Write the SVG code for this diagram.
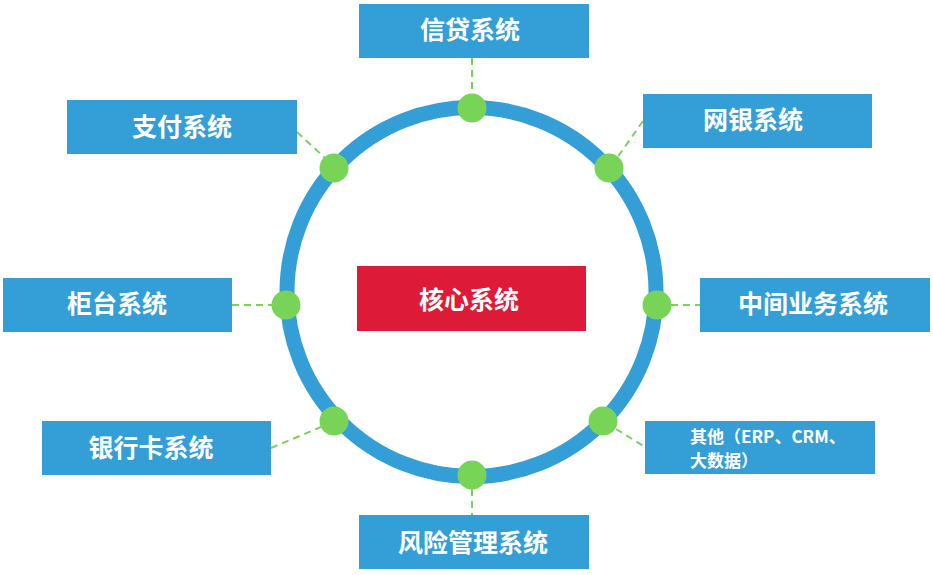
<svg xmlns="http://www.w3.org/2000/svg" width="933" height="575" viewBox="0 0 933 575">
<style>
.box{fill:#349FD7}
.core{fill:#DD1A37}
.t{fill:#fff;font-family:"Noto Sans CJK SC","Noto Sans",sans-serif;font-weight:bold;font-size:25px;text-anchor:middle}
.ts{fill:#fff;font-family:"Noto Sans CJK SC","Noto Sans",sans-serif;font-weight:bold;font-size:17px}
.dash{stroke:#78D456;stroke-width:2;stroke-dasharray:7 5;fill:none}
.dot{fill:#78D456}
</style>
<rect width="933" height="575" fill="#fff"/>
<g id="connectors">
<line class="dash" x1="472" y1="58" x2="472" y2="95"/>
<line class="dash" x1="297" y1="132" x2="326" y2="159"/>
<line class="dash" x1="643" y1="121" x2="617" y2="158"/>
<line class="dash" x1="232" y1="305" x2="272" y2="305"/>
<line class="dash" x1="671" y1="305" x2="700" y2="305"/>
<line class="dash" x1="271" y1="448" x2="321" y2="427"/>
<line class="dash" x1="616" y1="429" x2="645" y2="447"/>
<line class="dash" x1="472" y1="489" x2="472" y2="515"/>
</g>
<g id="ring">
<circle cx="471.5" cy="292" r="184.5" fill="none" stroke="#349FD7" stroke-width="15"/>
<circle class="dot" cx="472" cy="108" r="14.5"/>
<circle class="dot" cx="334" cy="168" r="14.5"/>
<circle class="dot" cx="609" cy="168" r="14.5"/>
<circle class="dot" cx="286" cy="305" r="14.5"/>
<circle class="dot" cx="657" cy="305" r="14.5"/>
<circle class="dot" cx="334" cy="421" r="14.5"/>
<circle class="dot" cx="603" cy="421" r="14.5"/>
<circle class="dot" cx="472" cy="475" r="14.5"/>
</g>
<g id="xindai"><rect class="box" x="359" y="4" width="230" height="54"/><text class="t" x="470" y="39">信贷系统</text></g>
<g id="zhifu"><rect class="box" x="67" y="100" width="230" height="54"/><text class="t" x="182" y="136">支付系统</text></g>
<g id="wangyin"><rect class="box" x="643" y="94" width="229" height="54"/><text class="t" x="753" y="129">网银系统</text></g>
<g id="guitai"><rect class="box" x="3" y="278" width="229" height="54"/><text class="t" x="117" y="313">柜台系统</text></g>
<g id="core"><rect class="core" x="357" y="266" width="229" height="65"/><text class="t" x="469" y="309">核心系统</text></g>
<g id="zhongjian"><rect class="box" x="700" y="278" width="230" height="54"/><text class="t" x="813" y="313">中间业务系统</text></g>
<g id="yinhangka"><rect class="box" x="42" y="421" width="229" height="54"/><text class="t" x="151" y="457">银行卡系统</text></g>
<g id="qita"><rect class="box" x="645" y="421" width="230" height="53"/><text class="ts" x="690" y="443">其他（ERP、CRM、</text><text class="ts" x="690" y="467">大数据）</text></g>
<g id="fengxian"><rect class="box" x="359" y="515" width="230" height="54"/><text class="t" x="473" y="552">风险管理系统</text></g>
</svg>
